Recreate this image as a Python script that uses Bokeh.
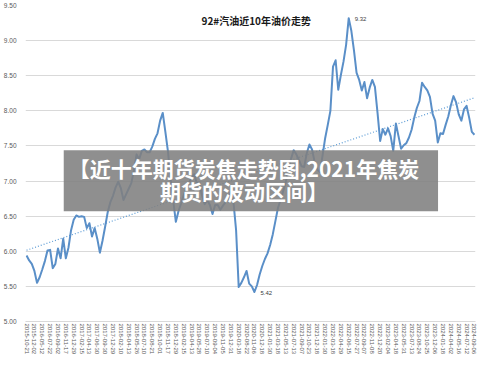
import math
import numpy as np
from bokeh.plotting import figure
from bokeh.models import FixedTicker, Range1d, BoxAnnotation, Label, ColumnDataSource
from bokeh.core.properties import value
from bokeh.embed import file_html
from bokeh.resources import INLINE

# ---------------- data ----------------
tick_dates = [
    "2015-10-21", "2015-12-02", "2016-05-12", "2016-07-22", "2016-09-02", "2016-11-17",
    "2016-12-29", "2017-02-15", "2017-04-13", "2017-06-30", "2017-09-30", "2017-12-29",
    "2018-02-10", "2018-04-13", "2018-05-26", "2018-07-10", "2018-08-21", "2018-10-01",
    "2018-11-17", "2018-12-29", "2019-02-15", "2019-04-13", "2019-05-28", "2019-07-10",
    "2019-09-04", "2019-11-05", "2019-12-31", "2020-03-18", "2020-08-22", "2020-11-06",
    "2020-12-18", "2021-01-30", "2021-03-18", "2021-05-13", "2021-07-13", "2021-09-07",
    "2021-10-23", "2021-12-18", "2022-01-30", "2022-03-18", "2022-04-29", "2022-06-15",
    "2022-07-27", "2022-09-07", "2022-11-08", "2022-12-20", "2023-02-04", "2023-04-18",
    "2023-05-31", "2023-07-13", "2023-08-24", "2023-10-25", "2023-12-06", "2024-01-18",
    "2024-04-02", "2024-05-16", "2024-07-12", "2024-09-06",
]

prices = [
    5.94, 5.87, 5.82, 5.72, 5.55, 5.63, 5.74, 5.86, 6.01, 6.02,
    5.76, 5.82, 6.04, 5.90, 6.18, 5.90, 6.05, 6.30, 6.45, 6.51,
    6.49, 6.50, 6.49, 6.33, 6.40, 6.21, 6.33, 6.18, 5.98, 6.15,
    6.35, 6.56, 6.70, 6.79, 6.91, 6.99, 6.90, 6.73, 6.81, 6.89,
    6.97, 7.15, 7.38, 7.31, 7.43, 7.45, 7.41, 7.41, 7.49, 7.60,
    7.68, 7.86, 7.97, 7.70, 7.42, 7.03, 6.72, 6.42, 6.57, 6.68,
    6.80, 6.89, 6.97, 7.05, 7.10, 6.97, 6.98, 6.79, 6.67, 6.73,
    6.66, 6.53, 6.66, 6.66, 6.59, 6.65, 6.70, 6.75, 6.84, 6.70,
    6.30, 5.49, 5.55, 5.63, 5.72, 5.54, 5.50, 5.42, 5.52, 5.67,
    5.79, 5.89, 5.97, 6.09, 6.24, 6.43, 6.62, 6.73, 6.86, 6.99,
    7.17, 7.32, 7.44, 7.38, 7.30, 7.21, 7.20, 7.40, 7.52, 7.45,
    7.27, 7.16, 7.13, 7.36, 7.61, 7.80, 8.00, 8.63, 8.72, 8.30,
    8.51, 8.70, 8.94, 9.32, 9.14, 8.86, 8.54, 8.44, 8.29, 8.41,
    8.18, 8.33, 8.44, 8.34, 7.97, 7.57, 7.74, 7.66, 7.75, 7.64,
    7.43, 7.82, 7.64, 7.46, 7.51, 7.54, 7.62, 7.73, 7.90, 8.04,
    8.14, 8.40, 8.34, 8.29, 8.20, 7.96, 7.86, 7.55, 7.68, 7.67,
    7.80, 7.92, 8.08, 8.21, 8.12, 7.95, 7.86, 8.02, 8.07, 7.90,
    7.70, 7.66,
]

y_ticks = [5.0, 5.5, 6.0, 6.5, 7.0, 7.5, 8.0, 8.5, 9.0, 9.5]
title_text = "92#汽油近10年油价走势"
banner_line1 = "【近十年期货炭焦走势图,2021年焦炭"
banner_line2 = "期货的波动区间】"

# ---------------- figure ----------------
n = len(prices)
idx = list(range(n))
step = 3
tick_pos = list(range(0, n, step))[: len(tick_dates)]

p = figure(
    width=492, height=357,
    x_range=Range1d(-0.4, n - 1 + 0.4),
    y_range=Range1d(5.0, 9.5),
    output_backend="svg", toolbar_location=None,
    min_border_top=5, min_border_right=17, min_border_left=4, min_border_bottom=0,
)
p.outline_line_color = None
p.background_fill_color = "white"
p.border_fill_color = "white"

p.xgrid.grid_line_color = None
p.ygrid.grid_line_color = "#D9D9D9"
p.ygrid.grid_line_width = 1

p.yaxis.ticker = FixedTicker(ticks=y_ticks)
p.yaxis.major_label_overrides = {t: f"{t:.2f}" for t in y_ticks}
p.yaxis.axis_line_color = None
p.yaxis.major_tick_line_color = None
p.yaxis.minor_tick_line_color = None
p.yaxis.major_label_text_font = "Liberation Sans"
p.yaxis.major_label_text_font_size = "6.5px"
p.yaxis.major_label_text_color = "#595959"
p.yaxis.major_label_standoff = 3

p.xaxis.ticker = FixedTicker(ticks=tick_pos)
p.xaxis.major_label_overrides = {pos: d for pos, d in zip(tick_pos, tick_dates)}
p.xaxis.major_label_orientation = -math.pi / 2
p.xaxis.axis_line_color = "#D9D9D9"
p.xaxis.major_tick_line_color = None
p.xaxis.minor_tick_line_color = None
p.xaxis.major_tick_out = 0
p.xaxis.major_label_text_font = "Liberation Sans"
p.xaxis.major_label_text_font_size = "6px"
p.xaxis.major_label_text_color = "#595959"
p.xaxis.major_label_standoff = 2

# trend line (least squares, like the spreadsheet's linear trendline)
slope, intercept = np.polyfit(idx, prices, 1)
trend_x = [0, n - 1]
trend_y = [intercept, intercept + slope * (n - 1)]
p.line(trend_x, trend_y, line_color="#5B9BD5", line_width=1.2, line_dash="1 2")

# price line
p.line(idx, prices, line_color="#5A8FC8", line_width=2, line_join="round")

# data labels: max, min, last
i_max = int(np.argmax(prices))
i_min = int(np.argmin(prices))
i_last = n - 1
lab_src = ColumnDataSource(dict(
    x=[i_max, i_min, i_last],
    y=[prices[i_max], prices[i_min], prices[i_last]],
    t=[f"{prices[i_max]:.2f}", f"{prices[i_min]:.2f}", f"{prices[i_last]:.2f}"],
    dx=[6, 6, 4],
    dy=[1, 1, 7],
))
p.text(x="x", y="y", text="t", source=lab_src, x_offset="dx", y_offset="dy",
       text_font=value("Liberation Sans"), text_font_size="6px",
       text_color="#404040", text_baseline="middle", text_align="left")

# chart title inside plot
p.add_layout(Label(x=87.7, y=9.28, text=title_text, text_align="center",
                   text_baseline="middle", text_font="Noto Sans CJK SC",
                   text_font_style="bold", text_font_size="10px", text_color="#1a1a1a"))

# banner overlay
p.add_layout(BoxAnnotation(left=14.2, right=157.1, bottom=6.57, top=7.44,
                           fill_color="#7F7F7F", fill_alpha=0.88, line_color=None))
p.add_layout(Label(x=83.0, y=7.18, text=banner_line1, text_align="center",
                   text_baseline="middle", text_font="Noto Sans CJK SC",
                   text_font_style="bold", text_font_size="21px", text_color="white"))
p.add_layout(Label(x=83.0, y=6.86, text=banner_line2, text_align="center",
                   text_baseline="middle", text_font="Noto Sans CJK SC",
                   text_font_style="bold", text_font_size="21px", text_color="white"))

open("out.html", "w").write(file_html(p, INLINE))
